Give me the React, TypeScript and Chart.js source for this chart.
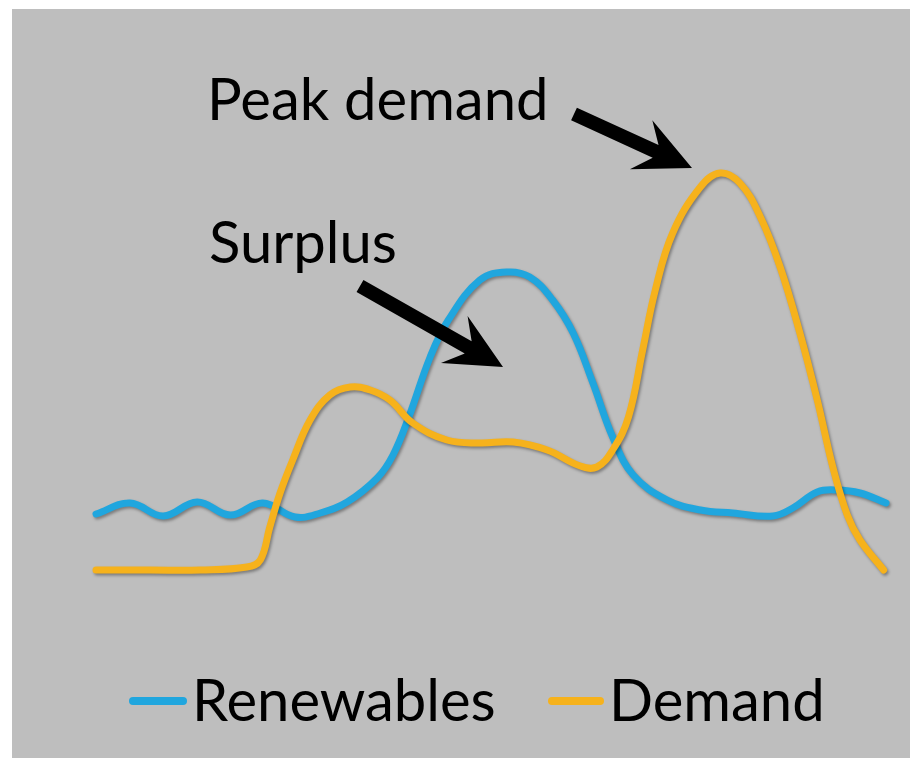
import React, { useEffect, useRef } from "react";
import { Chart, registerables } from "chart.js";

Chart.register(...registerables);

// x: position along the day (0-100), y: relative power (0-100)
const renewablesX = [0, 4.3, 8.5, 12.8, 17.0, 21.1, 25.2, 28.4, 31.8, 35.6, 37.6, 39.6, 42.3, 44.6, 48.6, 52.0, 54.9, 57.8, 60.4, 62.9, 65.4, 68.0, 72.3, 76.5, 80.6, 85.7, 88.2, 91.3, 93.8, 96.7, 100];
const renewablesY = [17.2, 19.4, 16.8, 19.6, 17.0, 19.4, 16.6, 17.4, 19.6, 24.4, 29.0, 36.6, 48.6, 56.0, 64.0, 65.6, 64.6, 60.0, 53.4, 43.4, 32.6, 25.0, 20.0, 18.0, 17.4, 16.8, 18.4, 21.6, 22.0, 21.4, 19.4];

const demandX = [0, 6.8, 13.2, 19.1, 20.8, 22.0, 23.3, 24.9, 27.1, 29.6, 32.2, 34.7, 37.2, 40.1, 44.4, 48.6, 52.8, 57.1, 61.3, 63.4, 65.4, 67.4, 69.2, 70.8, 73.0, 76.5, 79.0, 81.5, 84.1, 86.6, 89.1, 91.3, 93.3, 95.1, 96.7, 99.7];
const demandY = [6.0, 6.0, 6.0, 6.6, 8.0, 14.6, 21.4, 28.0, 36.0, 41.0, 42.6, 42.0, 40.0, 35.4, 32.0, 31.4, 31.6, 30.0, 26.8, 26.6, 30.0, 36.6, 50.0, 62.0, 73.4, 82.6, 85.4, 83.4, 76.6, 66.6, 53.4, 40.0, 26.4, 17.0, 12.0, 6.0];

const seriesNames = ["Renewables", "Demand"];
const annotationTexts = ["Peak demand", "Surplus"];

const BLUE = "#20a6de";
const ORANGE = "#f6b21c";
const FONT = "58px Lato, 'Open Sans', sans-serif";

function drawArrow(ctx: CanvasRenderingContext2D, tx: number, ty: number, hx: number, hy: number) {
  const dx = hx - tx, dy = hy - ty;
  const len = Math.hypot(dx, dy);
  const ux = dx / len, uy = dy / len;
  const nx = -uy, ny = ux;
  const w = 7, L = 56, H = 27, N = 40;
  const nX = hx - ux * N, nY = hy - uy * N;
  const bX = hx - ux * L, bY = hy - uy * L;
  ctx.beginPath();
  ctx.moveTo(tx + nx * w, ty + ny * w);
  ctx.lineTo(nX + nx * w, nY + ny * w);
  ctx.lineTo(bX + nx * H, bY + ny * H);
  ctx.lineTo(hx, hy);
  ctx.lineTo(bX - nx * H, bY - ny * H);
  ctx.lineTo(nX - nx * w, nY - ny * w);
  ctx.lineTo(tx - nx * w, ty - ny * w);
  ctx.closePath();
  ctx.fillStyle = "#000";
  ctx.fill();
}

const backgroundPlugin = {
  id: "bg",
  beforeDraw(chart: any) {
    const ctx = chart.ctx;
    ctx.save();
    ctx.fillStyle = "#ffffff";
    ctx.fillRect(0, 0, chart.width, chart.height);
    ctx.fillStyle = "#bebebe";
    ctx.fillRect(12, 9, 898, chart.height - 9);
    ctx.restore();
  },
};

const shadowPlugin = {
  id: "shadow",
  beforeDatasetDraw(chart: any) {
    const ctx = chart.ctx;
    ctx.save();
    ctx.shadowColor = "rgba(0,0,0,0.35)";
    ctx.shadowBlur = 3;
    ctx.shadowOffsetX = 1.5;
    ctx.shadowOffsetY = 2;
  },
  afterDatasetDraw(chart: any) {
    chart.ctx.restore();
  },
};

const annotationPlugin = {
  id: "annot",
  afterDraw(chart: any) {
    const ctx = chart.ctx;
    ctx.save();
    ctx.fillStyle = "#000";
    ctx.font = FONT;
    ctx.textBaseline = "alphabetic";
    ctx.textAlign = "left";
    ctx.fillText(annotationTexts[0], 207, 120);
    ctx.fillText(annotationTexts[1], 209, 263);
    drawArrow(ctx, 574, 114, 692, 168);
    drawArrow(ctx, 360, 286, 503, 367);

    // legend
    const items = [
      { color: BLUE, x0: 129, x1: 187, tx: 192, label: seriesNames[0] },
      { color: ORANGE, x0: 548, x1: 604, tx: 609, label: seriesNames[1] },
    ];
    for (const it of items) {
      ctx.strokeStyle = it.color;
      ctx.lineWidth = 8;
      ctx.lineCap = "round";
      ctx.beginPath();
      ctx.moveTo(it.x0 + 4, 701);
      ctx.lineTo(it.x1 - 4, 701);
      ctx.stroke();
      ctx.fillStyle = "#000";
      ctx.fillText(it.label, it.tx, 721);
    }
    ctx.restore();
  },
};

export default function App() {
  const ref = useRef<HTMLCanvasElement | null>(null);
  useEffect(() => {
    document.body.style.margin = "0";
    const canvas = ref.current!;
    const chart = new Chart(canvas, {
      type: "line",
      data: {
        datasets: [
          {
            label: seriesNames[0],
            data: renewablesX.map((x, i) => ({ x, y: renewablesY[i] })),
            borderColor: BLUE,
            borderWidth: 7,
            pointRadius: 0,
            tension: 0.4,
            borderCapStyle: "round",
            borderJoinStyle: "round",
            clip: false,
            order: 1,
          },
          {
            label: seriesNames[1],
            data: demandX.map((x, i) => ({ x, y: demandY[i] })),
            borderColor: ORANGE,
            borderWidth: 7,
            pointRadius: 0,
            tension: 0.4,
            borderCapStyle: "round",
            borderJoinStyle: "round",
            clip: false,
            order: 0,
          },
        ],
      },
      options: {
        responsive: false,
        animation: false,
        events: [],
        layout: { padding: { left: 96, right: 25, top: 100, bottom: 158 } },
        scales: {
          x: { type: "linear", min: 0, max: 100, display: false },
          y: { type: "linear", min: 0, max: 100, display: false },
        },
        plugins: {
          legend: { display: false },
          tooltip: { enabled: false },
        },
      },
      plugins: [backgroundPlugin, shadowPlugin, annotationPlugin],
    } as any);
    return () => chart.destroy();
  }, []);
  return (
    <div style={{ position: "absolute", left: 0, top: 0, width: 911, height: 758 }}>
      <canvas ref={ref} width={911} height={758} style={{ display: "block", width: 911, height: 758 }} />
    </div>
  );
}
